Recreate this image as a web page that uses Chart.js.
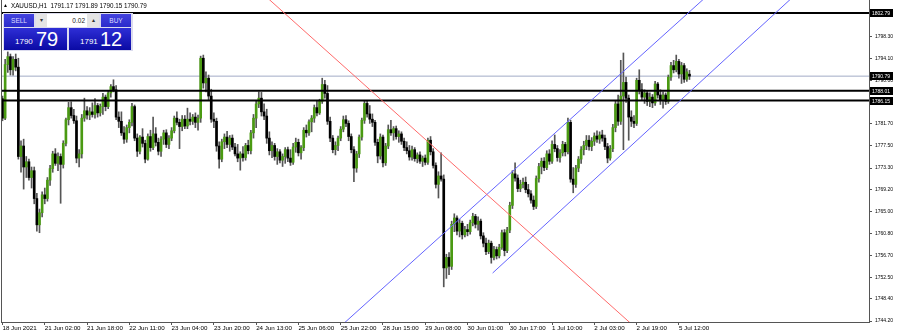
<!DOCTYPE html>
<html>
<head>
<meta charset="utf-8">
<script src="https://cdn.jsdelivr.net/npm/chart.js@4.4.1/dist/chart.umd.min.js"></script>
<style>
html,body{margin:0;padding:0;background:#fff;}
#wrap{position:relative;width:900px;height:336px;overflow:hidden;}
#c{position:absolute;left:0;top:0;}
.ov{position:absolute;font-family:'Liberation Sans',Arial,sans-serif;white-space:nowrap;}
#title{left:3px;top:1px;font-size:6.3px;line-height:9px;color:#000;}
#title .tri{font-size:5px;vertical-align:1px;margin-right:3px;}
#panel{left:3px;top:13px;width:130px;height:38px;background:#dcdcee;}
.btn{top:14px;height:13px;line-height:13px;font-size:6.5px;text-align:center;color:#dcdcff;background:linear-gradient(#4343de,#2a2acb);}
.arr{top:14px;height:13px;line-height:13px;font-size:6px;text-align:center;color:#333;background:#e4e4e4;}
#lot{left:47px;top:14px;width:38px;height:13px;line-height:13px;font-size:6.5px;text-align:right;padding-right:2px;color:#222;background:#fff;}
.pbox{top:28px;height:22px;background:linear-gradient(#2e2ed6,#0a0aa4);color:#fff;}
.pbox .sm{position:absolute;top:10px;font-size:8px;line-height:8px;}
.pbox .bg{position:absolute;top:0;font-size:20px;line-height:22px;}
</style>
</head>
<body>
<div id="wrap">
<canvas id="c" width="900" height="336"></canvas>
<div class="ov" id="title"><span class="tri">▲</span>XAUUSD,H1&nbsp; 1791.17 1791.89 1790.15 1790.79</div>
<div class="ov" id="panel"></div>
<div class="ov btn" style="left:4px;width:30px;">SELL</div>
<div class="ov arr" style="left:36px;width:11px;">▾</div>
<div class="ov" id="lot">0.02</div>
<div class="ov arr" style="left:87px;width:12px;">▴</div>
<div class="ov btn" style="left:101px;width:30px;">BUY</div>
<div class="ov pbox" style="left:4px;width:63px;"><span class="sm" style="left:11px;">1790</span><span class="bg" style="left:32px;">79</span></div>
<div class="ov pbox" style="left:69px;width:62px;"><span class="sm" style="left:11px;">1791</span><span class="bg" style="left:31px;">12</span></div>
</div>
<script>
// ---- Data (XAUUSD H1) ----
const openP = [
1786.5,1782.8,1793,1794.5,1792,1794,1792.5,1775.5,1777.5,1773.5,
1774.5,1771.5,1772.8,1767.5,1762.5,1764.8,1768.2,1767.5,1771,1773.2,
1776,1774.2,1775.5,1774,1778,1782.5,1784.8,1783.3,1782.3,1775.2,
1776,1782.8,1784.2,1783.4,1784,1783.5,1785.2,1783.8,1785,1786.8,
1785,1787.6,1788.8,1788.2,1783,1782.2,1780,1778.8,1781,1782,
1785,1779,1776.5,1779.2,1778,1775,1779.3,1777.2,1779.8,1778.2,
1776.5,1778.8,1780,1777.8,1779,1780.4,1782.8,1782,1781.2,1782.6,
1781.3,1782.6,1782.2,1783,1782,1782.8,1794.2,1789.5,1790.4,1787,
1782.6,1782.2,1777.5,1775,1778.3,1779.2,1777.8,1779,1777.3,1776,
1775.2,1776,1775.3,1777.6,1776.6,1780,1782.8,1785.5,1786.6,1784,
1783.2,1779,1776.6,1777.6,1775.5,1776.4,1774.8,1775.5,1776.8,1775.2,
1774.4,1777.3,1778.2,1776.2,1777.2,1780.5,1780,1782.1,1782.8,1784.8,
1783.8,1786,1789.2,1787.5,1782.2,1779,1776.8,1777.6,1779,1780.7,
1782.5,1781.8,1779.3,1776.8,1773.3,1776,1779.2,1782.4,1785.6,1783.6,
1782.6,1782,1778.2,1775.6,1779.2,1774.3,1777.5,1780.6,1780,1780.8,
1779.3,1779.8,1778.4,1777.2,1776.6,1775.4,1776.8,1775.1,1775.8,1774.6,
1775.2,1774.4,1778.6,1776.4,1773.8,1770.2,1771.8,1771.2,1754.3,1756.3,
1754.6,1762.6,1763.8,1761.3,1762.8,1760.6,1761.6,1761.2,1762.9,1764.1,
1762.6,1763.2,1760.4,1759,1757.4,1759,1756.3,1757.8,1756.6,1758.2,
1761,1757.6,1761.5,1766.2,1772.2,1771.4,1769.4,1770.2,1770.6,1769.2,
1768.4,1767.2,1766,1771.3,1773.6,1774.6,1773.4,1776,1774.6,1777.8,
1777,1775.3,1776.2,1777.8,1776.4,1782,1771.2,1770.2,1773.3,1775,
1776.8,1777.6,1778.6,1777.4,1778.4,1779.4,1778.8,1779.6,1779,1777.4,
1775.2,1777,1781,1785.5,1782.2,1787,1789.6,1786.6,1783,1782.2,
1781.8,1790,1788.2,1786.8,1787.6,1786,1786.8,1785.7,1789.3,1787.2,
1786.2,1787.2,1786,1790.6,1792.8,1792,1793.6,1791.2,1792.8,1790.2,
1791.17];
const highP = [
1787,1794,1795.4,1795,1794.5,1795,1794.2,1778.5,1778.8,1775.5,
1775,1773.5,1773.5,1768.5,1765.5,1768.8,1769.5,1771.5,1773.8,1776.5,
1777,1776.2,1776,1778.5,1782.8,1785.8,1785.9,1784.5,1783.2,1776.8,
1783.5,1786.6,1785,1784.8,1785.7,1786.5,1785.6,1785.5,1787.5,1787.2,
1788,1789.2,1790.1,1789,1784,1784,1781.2,1781.5,1782.5,1785.6,
1785.3,1779.8,1779.5,1780.8,1778.6,1779.8,1780.5,1783,1781,1779,
1779.3,1780.5,1780.6,1779.5,1781,1783.2,1784,1782.6,1783.3,1783.3,
1784.7,1783.8,1783.5,1783.8,1783.4,1794.6,1794.8,1791.6,1791,1788.3,
1783.8,1782.8,1778.3,1778.8,1779.8,1780.3,1779.5,1779.6,1778,1777.8,
1776.4,1777.4,1778,1778.6,1780.5,1783.5,1786,1787.8,1787.7,1785.5,
1784.5,1780.2,1778.3,1778,1777,1776.8,1776,1777.2,1777.3,1776.8,
1778,1779,1778.8,1777.6,1781,1781.5,1782.5,1783.3,1785.3,1786,
1786.4,1790.4,1790,1789,1783,1779.5,1778.3,1779.4,1781.2,1783.2,
1783.3,1782.3,1779.8,1777.4,1776.5,1779.6,1782.8,1786,1786,1785.2,
1783.6,1782.4,1778.8,1779.8,1779.6,1778,1781.5,1782.4,1781.2,1781.3,
1780.4,1780.2,1779,1778.3,1777.6,1777.5,1777.2,1776.2,1776.4,1775.6,
1775.8,1779,1779.3,1777,1774.3,1772.6,1776.2,1772,1756.9,1757.2,
1763.2,1764.6,1764.2,1763.5,1763.2,1762.2,1762.6,1763.4,1764.7,1764.5,
1764,1763.6,1761,1760,1759.6,1759.4,1758.4,1758.3,1758.8,1761.5,
1761.6,1762,1766.8,1772.8,1774.3,1772,1771,1771.4,1771.6,1770.2,
1769,1768,1771.8,1774.2,1775.2,1775.3,1776.6,1776.8,1778.5,1779.6,
1777.6,1776.8,1778.4,1778.2,1782.8,1782.4,1773.4,1773.8,1775.5,1777.4,
1778.4,1779.5,1779.5,1779.1,1780,1780.4,1780.2,1780.5,1779.6,1778,
1777.6,1781.6,1786,1787.2,1793.8,1795.2,1790.6,1787.2,1784.2,1783.3,
1790.4,1792,1789.4,1788.2,1788,1787.6,1787.3,1789.8,1789.6,1788.2,
1787.8,1787.6,1791,1793.4,1793.8,1794.8,1794,1793.4,1793.2,1792.2,
1791.89];
const lowP = [
1782.3,1782.5,1791.5,1791,1791,1791.8,1775,1772.5,1769.3,1771.5,
1771,1769.5,1766.5,1761.3,1761,1764,1766.5,1767,1770,1772.5,
1773.8,1772.8,1766.6,1773.3,1777.5,1781.5,1782.8,1781.8,1774.3,1773.5,
1775.2,1782.2,1782.6,1782.5,1783,1782.8,1783,1783.2,1783.5,1784.2,
1784.6,1786.8,1787.8,1782.5,1781,1779.5,1778,1778.2,1780,1781.3,
1778.5,1775.5,1776,1777.3,1774.3,1774.8,1776.5,1776.8,1777.5,1775.8,
1775.5,1777.8,1777.2,1777,1778.5,1780,1781.5,1777,1780.4,1780.8,
1780.8,1781.5,1781.6,1781,1780.5,1782,1788.5,1787.8,1786.2,1782,
1781,1776.5,1773.3,1774.5,1777,1777.2,1776.5,1776.8,1775.6,1774.5,
1772.9,1774.6,1774.8,1776,1776,1779,1781,1784.8,1783.2,1782.5,
1778,1775.8,1775.3,1774.8,1774,1774.3,1773.6,1774.2,1774.5,1773.8,
1774,1776.3,1775.6,1775,1776.6,1779.2,1779.5,1780.2,1782,1783.2,
1783.5,1785.6,1786.6,1781.6,1778.3,1776.2,1775.8,1776.6,1778.5,1780.2,
1781.2,1778.5,1776.2,1770.7,1772.5,1775.3,1778.6,1781.8,1783,1781.8,
1781.2,1777.6,1774.3,1775,1773.5,1773.8,1777,1779.5,1778.6,1778.8,
1778.2,1777.8,1776.6,1776,1774.8,1774.8,1774.6,1774.3,1774.2,1773.6,
1773.9,1774,1775.8,1773.3,1769.5,1767.6,1770.8,1750.7,1752.3,1753,
1754,1761.2,1760.6,1760.2,1759.8,1760.2,1760.4,1760.7,1762.3,1761.9,
1761.5,1759.8,1758.3,1756.8,1757,1755.2,1755.8,1756,1756.2,1757.8,
1756.6,1757.2,1761,1765.6,1770.8,1768.8,1768.8,1769.5,1768.6,1767.8,
1766.6,1765.4,1765.6,1770.6,1772.2,1772.8,1773,1774,1774.2,1776.4,
1774.6,1774.4,1775.6,1775.6,1776,1770.6,1768.6,1769.6,1772.6,1774.2,
1775.8,1776.8,1776.7,1776.6,1777.6,1778.2,1778,1778.4,1776.8,1774.3,
1774.8,1776.4,1780.2,1781.4,1781.6,1776.8,1785.8,1778.6,1781.2,1781,
1781.4,1787.4,1786.2,1785.6,1785.2,1785,1784.8,1785.2,1786.6,1785.4,
1784.7,1785.4,1785.6,1790,1791.4,1791.6,1790.4,1789.4,1789.6,1789.8,
1790.15];
const closeP = [
1782.8,1793,1794.5,1792,1794,1792.5,1775.5,1777.5,1773.5,1774.5,
1771.5,1772.8,1767.5,1762.5,1764.8,1768.2,1767.5,1771,1773.2,1776,
1774.2,1775.5,1774,1778,1782.5,1784.8,1783.3,1782.3,1775.2,1776,
1782.8,1784.2,1783.4,1784,1783.5,1785.2,1783.8,1785,1786.8,1785,
1787.6,1788.8,1788.2,1783,1782.2,1780,1778.8,1781,1782,1785,
1779,1776.5,1779.2,1778,1775,1779.3,1777.2,1779.8,1778.2,1776.5,
1778.8,1780,1777.8,1779,1780.4,1782.8,1782,1781.2,1782.6,1781.3,
1782.6,1782.2,1783,1782,1782.8,1794.2,1789.5,1790.4,1787,1782.6,
1782.2,1777.5,1775,1778.3,1779.2,1777.8,1779,1777.3,1776,1775.2,
1776,1775.3,1777.6,1776.6,1780,1782.8,1785.5,1786.6,1784,1783.2,
1779,1776.6,1777.6,1775.5,1776.4,1774.8,1775.5,1776.8,1775.2,1774.4,
1777.3,1778.2,1776.2,1777.2,1780.5,1780,1782.1,1782.8,1784.8,1783.8,
1786,1789.2,1787.5,1782.2,1779,1776.8,1777.6,1779,1780.7,1782.5,
1781.8,1779.3,1776.8,1773.3,1776,1779.2,1782.4,1785.6,1783.6,1782.6,
1782,1778.2,1775.6,1779.2,1774.3,1777.5,1780.6,1780,1780.8,1779.3,
1779.8,1778.4,1777.2,1776.6,1775.4,1776.8,1775.1,1775.8,1774.6,1775.2,
1774.4,1778.6,1776.4,1773.8,1770.2,1771.8,1771.2,1754.3,1756.3,1754.6,
1762.6,1763.8,1761.3,1762.8,1760.6,1761.6,1761.2,1762.9,1764.1,1762.6,
1763.2,1760.4,1759,1757.4,1759,1756.3,1757.8,1756.6,1758.2,1761,
1757.6,1761.5,1766.2,1772.2,1771.4,1769.4,1770.2,1770.6,1769.2,1768.4,
1767.2,1766,1771.3,1773.6,1774.6,1773.4,1776,1774.6,1777.8,1777,
1775.3,1776.2,1777.8,1776.4,1782,1771.2,1770.2,1773.3,1775,1776.8,
1777.6,1778.6,1777.4,1778.4,1779.4,1778.8,1779.6,1779,1777.4,1775.2,
1777,1781,1785.5,1782.2,1787,1789.6,1786.6,1783,1782.2,1781.8,
1790,1788.2,1786.8,1787.6,1786,1786.8,1785.7,1789.3,1787.2,1786.2,
1787.2,1786,1790.6,1792.8,1792,1793.6,1791.2,1792.8,1790.2,1791.6,
1790.79];

const xTickBars = [0,16,32,48,64,80,96,112,128,144,160,176,192,208,224,240,256];
const xTickLabels = ['18 Jun 2021','21 Jun 02:00','21 Jun 18:00','22 Jun 11:00','23 Jun 04:00',
  '23 Jun 20:00','24 Jun 13:00','25 Jun 06:00','25 Jun 22:00','28 Jun 15:00','29 Jun 08:00',
  '30 Jun 01:00','30 Jun 17:00','1 Jul 10:00','2 Jul 03:00','2 Jul 19:00','5 Jul 12:00'];
const yTickVals = [1744.20,1748.40,1752.50,1756.70,1760.80,1765.00,1769.20,1773.30,1777.50,
  1781.70,1785.90,1790.00,1794.10,1798.30,1802.50];

const levelLines = [1802.79, 1788.01, 1786.15];
const bidLevel = 1790.79;
const priceMarks = [1802.79, 1790.79, 1788.01, 1786.15];
// trend lines: [bar index, price] anchor pairs
const redLine = [[96, 1807.6], [240, 1742.74]];
const blueUpper = [[126, 1742.3], [268, 1806.66]];
const blueLower = [[185.5, 1753.33], [300, 1806.25]];

// ---- Build datasets ----
const FONT = "'Liberation Sans',Arial,sans-serif";
const wicks = openP.map((o, i) => ({x: i, y: [lowP[i], highP[i]]}));
const bodies = openP.map((o, i) => ({x: i, y: [o, closeP[i]]}));
const bodyColors = openP.map((o, i) => closeP[i] >= o ? '#4a9a12' : '#000000');
const seg = pts => pts.map(p => ({x: p[0], y: p[1]}));
const hline = v => [{x: -5, y: v}, {x: 340, y: v}];
const lineDs = (data, color, w) => ({type: 'line', data, borderColor: color, borderWidth: w,
  pointRadius: 0, fill: false, tension: 0, order: 0});

const datasets = [
  lineDs(seg(redLine), '#ff6a6a', 1),
  lineDs(seg(blueUpper), '#6464ff', 1),
  lineDs(seg(blueLower), '#6464ff', 1),
  ...levelLines.map(v => lineDs(hline(v), '#000000', 2)),
  Object.assign(lineDs(hline(bidLevel), '#a2abc6', 1), {order: 3}),
  {type: 'bar', data: bodies, backgroundColor: bodyColors, barThickness: 2, grouped: false, order: 1, minBarLength: 1},
  {type: 'bar', data: wicks, backgroundColor: '#555555', barThickness: 1, grouped: false, order: 2}
];

const framePlugin = {
  id: 'frame',
  afterDraw(chart) {
    const c = chart.ctx, a = chart.chartArea, ys = chart.scales.y;
    c.save();
    c.strokeStyle = '#555';
    c.lineWidth = 1;
    c.beginPath();
    c.moveTo(a.left + 0.5, a.top);
    c.lineTo(a.left + 0.5, a.bottom);
    c.stroke();
    c.font = '5px ' + FONT;
    c.textBaseline = 'middle';
    priceMarks.forEach(v => {
      const y = ys.getPixelForValue(v);
      c.fillStyle = '#000';
      c.fillRect(a.right + 1, Math.round(y) - 4, 23, 8);
      c.fillStyle = '#fff';
      c.fillText(v.toFixed(2), a.right + 3, Math.round(y) + 0.5);
    });
    c.restore();
  }
};

new Chart(document.getElementById('c'), {
  type: 'bar',
  data: {datasets},
  options: {
    responsive: false,
    animation: false,
    devicePixelRatio: 1,
    layout: {padding: {left: 1, top: 0, right: 0, bottom: 0}},
    plugins: {legend: {display: false}, tooltip: {enabled: false}},
    scales: {
      x: {
        type: 'linear', min: -0.57, max: 327.95, offset: false,
        grid: {display: true, drawOnChartArea: false, drawTicks: true, tickLength: 3, color: '#555', offset: false},
        border: {display: true, color: '#555'},
        afterBuildTicks: s => { s.ticks = xTickBars.map(v => ({value: v})); },
        afterFit: s => { s.height = 14; s.paddingLeft = 0; s.paddingRight = 0; },
        ticks: {autoSkip: false, maxRotation: 0, minRotation: 0, align: 'start', padding: 0,
          color: '#000', font: {family: FONT, size: 6.2},
          callback: (v, i) => xTickLabels[i]}
      },
      y: {
        type: 'linear', position: 'right', min: 1744.01, max: 1805.28, beginAtZero: false,
        grid: {display: true, drawOnChartArea: false, drawTicks: true, tickLength: 3, color: '#555'},
        border: {display: true, color: '#555'},
        afterBuildTicks: s => { s.ticks = yTickVals.map(v => ({value: v})); },
        afterFit: s => { s.width = 31; s.paddingTop = 0; s.paddingBottom = 0; },
        ticks: {padding: 3, color: '#000', font: {family: FONT, size: 5},
          callback: v => Number(v).toFixed(2)}
      }
    }
  },
  plugins: [framePlugin]
});
</script>
</body>
</html>
